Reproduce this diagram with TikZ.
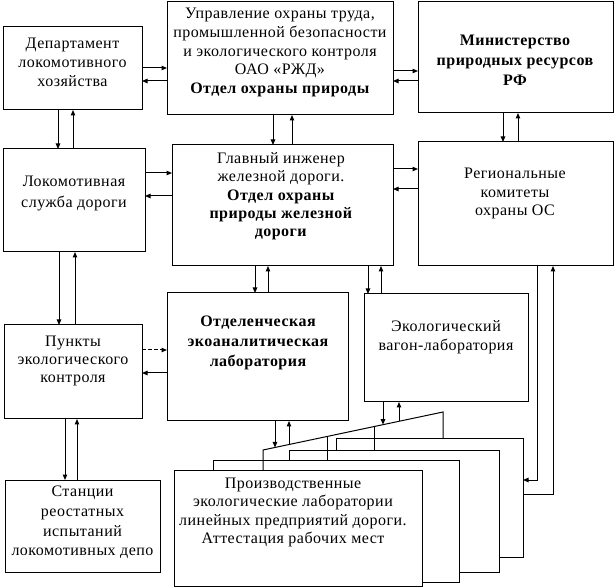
\documentclass[tikz,border=0pt]{standalone}
\usepackage{fontspec}
\setmainfont{Liberation Serif}[LetterSpace=3]
\usetikzlibrary{arrows.meta}
\begin{document}
\begin{tikzpicture}[x=1pt,y=-1pt,
  box/.style={draw, line width=1pt, inner sep=0pt, outer sep=0pt, anchor=north west},
  txt/.style={align=center, inner sep=0pt, font=\fontsize{16}{19}\selectfont},
  ln/.style={line width=1pt},
  arr/.style={line width=1pt, -{Triangle[length=5.5pt,width=4.5pt]}},
  dsh/.style={arr, dash pattern=on 4pt off 2pt}]
\useasboundingbox (0,0) rectangle (614,588);
% boxes
\node[box, minimum width=139pt, minimum height=83pt] (b1) at (3,27) {};
\node[box, minimum width=226pt, minimum height=113pt] (b2) at (167,2) {};
\node[box, minimum width=195pt, minimum height=111pt] (b3) at (418,2) {};
\node[box, minimum width=142pt, minimum height=103pt] (b4) at (3,149) {};
\node[box, minimum width=221pt, minimum height=121pt] (b5) at (172,145) {};
\node[box, minimum width=195pt, minimum height=124pt] (b6) at (418,142) {};
\node[box, minimum width=138pt, minimum height=94pt] (b7) at (4,325) {};
\node[box, minimum width=181pt, minimum height=128pt] (b8) at (167,293) {};
\node[box, minimum width=164pt, minimum height=108pt] (b9) at (364,294) {};
\node[box, minimum width=155pt, minimum height=92pt] (b10) at (5,480) {};
% stacked cards behind
\draw[ln] (336,451) -- (336,439) -- (523,439) -- (523,557) -- (499,557);
\draw[ln] (289,461) -- (289,451) -- (499,451) -- (499,572) -- (459,572);
\draw[ln] (213,470) -- (213,461) -- (459,461) -- (459,582) -- (422,582);
\coordinate (s1) at (263,450);
\coordinate (s2) at (443,412);
\draw[ln] (263,470) -- (s1) -- (s2) -- (443,439);
\draw[ln] (327,436.5) -- (327,461);
\draw[ln] (374,426.6) -- (374,451);
\node[box, fill=white, minimum width=248pt, minimum height=116pt] (bf) at (174,470) {};
% texts
\node[txt] (t1) at (72.5,62.5) {Департамент\\локомотивного\\хозяйства};
\node[txt, font=\fontsize{16}{18.7}\selectfont] (t2) at (280,52.5) {Управление охраны труда,\\промышленной безопасности\\и экологического контроля\\ОАО «РЖД»\\\textbf{Отдел охраны природы}};
\node[txt, font=\fontsize{16}{20}\selectfont\bfseries] (t3) at (515,60) {Министерство\\природных ресурсов\\РФ};
\node[txt, font=\fontsize{16}{21}\selectfont] (t4) at (74,193.5) {Локомотивная\\служба дороги};
\node[txt, font=\fontsize{16}{18.3}\selectfont] (t5) at (281,196.5) {Главный инженер\\железной дороги.\\\textbf{Отдел охраны}\\\textbf{природы железной}\\\textbf{дороги}};
\node[txt, font=\fontsize{16}{18.5}\selectfont] (t6) at (515,193.5) {Региональные\\комитеты\\охраны ОС};
\node[txt, font=\fontsize{16}{18}\selectfont] (t7) at (73,361) {Пункты\\экологического\\контроля};
\node[txt, font=\fontsize{16}{20}\selectfont\bfseries] (t8) at (258,343) {Отделенческая\\экоаналитическая\\лаборатория};
\node[txt] (t9) at (446,337.5) {Экологический\\вагон-лаборатория};
\node[txt, font=\fontsize{16}{19.7}\selectfont] (t10) at (82.5,522.5) {Станции\\реостатных\\испытаний\\локомотивных депо};
\node[txt, font=\fontsize{16}{18.3}\selectfont] (tf) at (293,512.5) {Производственные\\экологические лаборатории\\линейных предприятий дороги.\\Аттестация рабочих мест};
% horizontal connectors
\draw[arr] (b1.east |- 0,68) -- (b2.west |- 0,68);
\draw[arr] (b2.west |- 0,81) -- (b1.east |- 0,81);
\draw[arr] (b2.east |- 0,71) -- (b3.west |- 0,71);
\draw[arr] (b3.west |- 0,81) -- (b2.east |- 0,81);
\draw[arr] (b4.east |- 0,173) -- (b5.west |- 0,173);
\draw[arr] (b5.west |- 0,196) -- (b4.east |- 0,196);
\draw[arr] (b5.east |- 0,169) -- (b6.west |- 0,169);
\draw[arr] (b6.west |- 0,189) -- (b5.east |- 0,189);
\draw[dsh] (b7.east |- 0,350) -- (b8.west |- 0,350);
\draw[arr] (b8.west |- 0,373) -- (b7.east |- 0,373);
% vertical connectors
\draw[arr] (b1.south -| 58,0) -- (b4.north -| 58,0);
\draw[arr] (b4.north -| 73,0) -- (b1.south -| 73,0);
\draw[arr] (b2.south -| 273,0) -- (b5.north -| 273,0);
\draw[arr] (b5.north -| 292,0) -- (b2.south -| 292,0);
\draw[arr] (b3.south -| 503,0) -- (b6.north -| 503,0);
\draw[arr] (b6.north -| 518,0) -- (b3.south -| 518,0);
\draw[arr] (b4.south -| 59,0) -- (b7.north -| 59,0);
\draw[arr] (b7.north -| 75,0) -- (b4.south -| 75,0);
\draw[arr] (b5.south -| 255,0) -- (b8.north -| 255,0);
\draw[arr] (b8.north -| 268,0) -- (b5.south -| 268,0);
\draw[arr] (b5.south -| 368,0) -- (b9.north -| 368,0);
\draw[arr] (b9.north -| 381,0) -- (b5.south -| 381,0);
\draw[arr] (b7.south -| 65,0) -- (b10.north -| 65,0);
\draw[arr] (b10.north -| 77,0) -- (b7.south -| 77,0);
% to stacked cards
\coordinate (p1) at (275,447.5);
\coordinate (p2) at (289,444.5);
\coordinate (p3) at (383,424.7);
\coordinate (p4) at (399,421.3);
\draw[arr] (b8.south -| p1) -- (p1);
\draw[arr] (p2) -- (b8.south -| p2);
\draw[arr] (b9.south -| p3) -- (p3);
\draw[arr] (p4) -- (b9.south -| p4);
\coordinate (r1) at (523,480);
\coordinate (r2) at (523,494);
\draw[arr] (b6.south -| 537,0) |- (r1);
\draw[arr] (r2) -| (b6.south -| 553,0);
\end{tikzpicture}
\end{document}
